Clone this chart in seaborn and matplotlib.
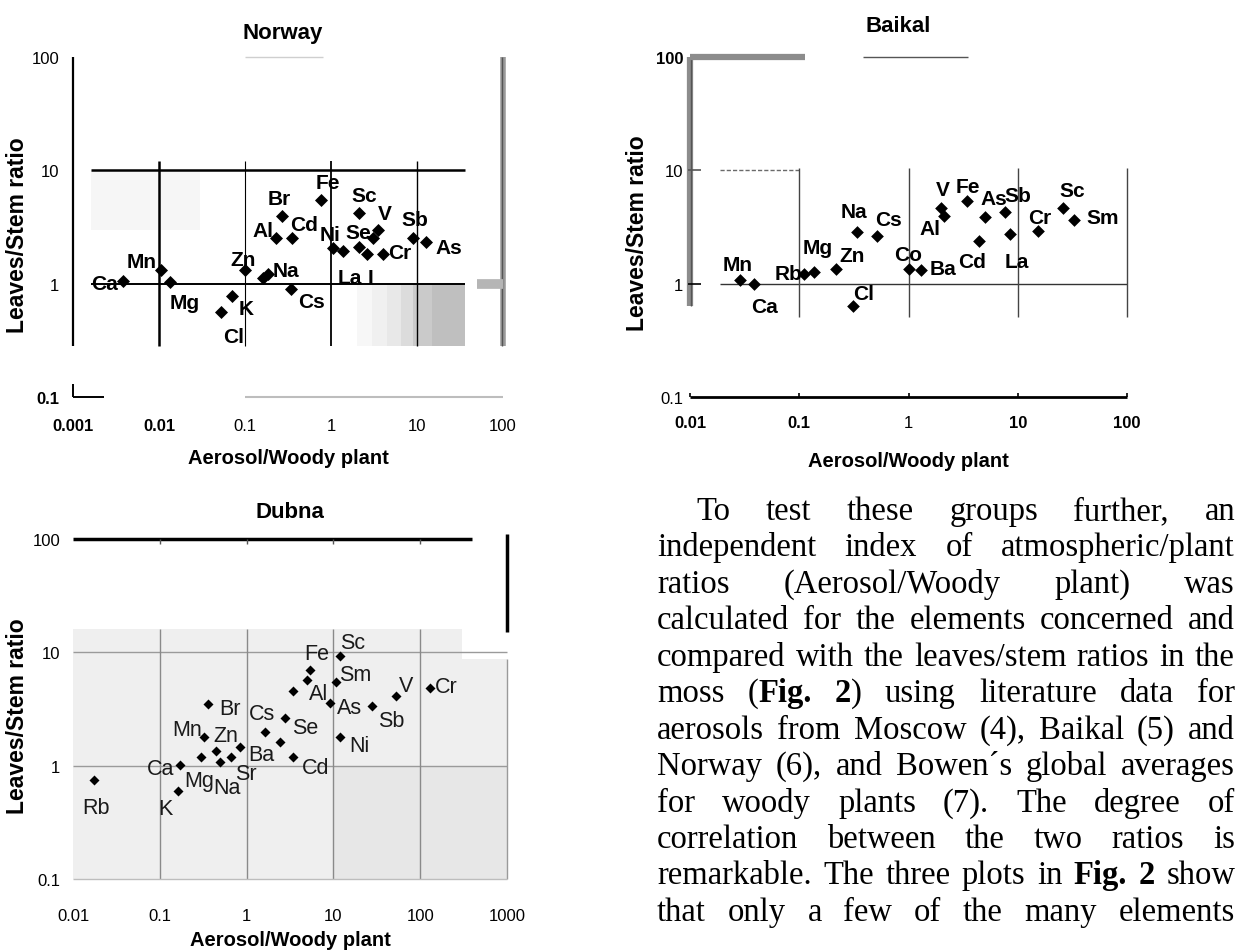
import matplotlib
matplotlib.use("Agg")
import matplotlib.pyplot as plt
import seaborn as sns
import pandas as pd
from matplotlib.ticker import NullLocator

sns.set_theme(style="white")
plt.rcParams["font.family"] = ["Liberation Sans", "DejaVu Sans"]

W_PX, H_PX, DPI = 1243, 953, 100

# ---------------------------------------------------------------- data
norway_elements = ["Ca", "Mn", "Mg", "Cl", "K", "Zn", "Na", "", "Br", "Al", "Cd", "Cs",
                   "Fe", "Ni", "La", "Sc", "Se", "I", "", "V", "Cr", "Sb", "As"]
norway_aerosol = [0.0038, 0.0105, 0.0133, 0.052, 0.070, 0.101, 0.186, 0.163, 0.266, 0.229,
                  0.355, 0.339, 0.76, 1.05, 1.37, 2.12, 2.12, 2.6, 3.06, 3.56, 4.0, 8.87, 12.7]
norway_leaves = [1.06, 1.31, 1.04, 0.56, 0.78, 1.31, 1.22, 1.13, 3.95, 2.55, 2.55, 0.89,
                 5.43, 2.08, 1.94, 4.23, 2.11, 1.84, 2.55, 2.98, 1.82, 2.51, 2.33]

baikal_elements = ["Mn", "Ca", "Rb", "Mg", "Zn", "Na", "Cl", "Cs", "Co", "Ba", "V", "Al",
                   "Fe", "Cd", "As", "Sb", "La", "Cr", "Sc", "Sm"]
baikal_aerosol = [0.0286, 0.0387, 0.111, 0.136, 0.216, 0.339, 0.312, 0.516, 1.01, 1.30, 2.0,
                  2.1, 3.44, 4.4, 5.06, 7.7, 8.45, 15.3, 26.0, 33.0]
baikal_leaves = [1.07, 1.0, 1.22, 1.27, 1.35, 2.83, 0.64, 2.61, 1.36, 1.33, 4.68, 3.98,
                 5.36, 2.39, 3.9, 4.26, 2.74, 2.93, 4.68, 3.65]

dubna_elements = ["Rb", "Ca", "K", "Br", "Mn", "Mg", "Zn", "Na", "Sr", "Ba", "Cs", "",
                  "Se", "Cd", "", "Al", "Fe", "As", "Sm", "Sc", "Ni", "Sb", "V", "Cr"]
dubna_aerosol = [0.0173, 0.169, 0.162, 0.359, 0.32, 0.30, 0.44, 0.49, 0.667, 0.85, 1.61, 2.45,
                 2.74, 3.43, 3.43, 4.97, 5.33, 9.06, 10.8, 12.0, 12.0, 28.1, 53.1, 128.5]
dubna_leaves = [0.75, 1.01, 0.594, 3.5, 1.78, 1.2, 1.34, 1.07, 1.2, 1.45, 2.0, 1.61,
                2.62, 1.2, 4.53, 5.74, 7.03, 3.55, 5.51, 9.22, 1.78, 3.38, 4.15, 4.84]

x_ticks_norway = [0.001, 0.01, 0.1, 1, 10, 100]
x_labels_norway = ["0.001", "0.01", "0.1", "1", "10", "100"]
x_ticks_baikal = [0.01, 0.1, 1, 10, 100]
x_labels_baikal = ["0.01", "0.1", "1", "10", "100"]
x_ticks_dubna = [0.01, 0.1, 1, 10, 100, 1000]
x_labels_dubna = ["0.01", "0.1", "1", "10", "100", "1000"]
y_ticks = [0.1, 1, 10, 100]
y_labels = ["0.1", "1", "10", "100"]

panel_titles = ["Norway", "Baikal", "Dubna"]
x_title = "Aerosol/Woody plant"
y_title = "Leaves/Stem ratio"

body_lines = [
    "To test these groups further, an",
    "independent index of atmospheric/plant",
    "ratios (Aerosol/Woody plant) was",
    "calculated for the elements concerned and",
    "compared with the leaves/stem ratios in the",
    "moss (**Fig.** **2**) using literature data for",
    "aerosols from Moscow (4), Baikal (5) and",
    "Norway (6), and Bowen\u00b4s global averages",
    "for woody plants (7). The degree of",
    "correlation between the two ratios is",
    "remarkable. The three plots in **Fig.** **2** show",
    "that only a few of the many elements",
]

# label placement (pixels from the marker centre)
norway_offsets = {
    "Ca": (-18, -3), "Mn": (-19, 9), "Mg": (15, -21), "Cl": (13, -24), "K": (14, -13),
    "Zn": (-2, 11), "Na": (18, 3), "Br": (-2, 18), "Al": (-13, 7), "Cd": (12, 13),
    "Cs": (21, -12), "Fe": (7, 18), "Ni": (-3, 13), "La": (7, -26), "Sc": (5, 17),
    "Se": (-1, 14), "I": (4, -24), "V": (6, 16), "Cr": (17, 2), "Sb": (2, 19), "As": (23, -5),
}
baikal_offsets = {
    "Mn": (-2, 16), "Ca": (10, -23), "Rb": (-16, 0), "Mg": (4, 24), "Zn": (16, 13),
    "Na": (-3, 21), "Cl": (10, 12), "Cs": (11, 17), "Co": (-1, 14), "Ba": (22, 1),
    "V": (1, 18), "Al": (-14, -13), "Fe": (1, 15), "Cd": (-7, -21), "As": (8, 18),
    "Sb": (13, 17), "La": (7, -27), "Cr": (2, 13), "Sc": (9, 17), "Sm": (28, 2),
}
dubna_offsets = {
    "Rb": (2, -28), "Ca": (-19, -3), "K": (-13, -17), "Mg": (-2, -24), "Na": (7, -25),
    "Sr": (15, -17), "Mn": (-17, 8), "Zn": (10, 16), "Br": (22, -4), "Cs": (-3, 18),
    "Ba": (21, -7), "Se": (21, -9), "Cd": (23, -11), "Fe": (7, 16), "Al": (12, -14),
    "Sc": (12, 14), "Sm": (19, 7), "As": (20, -4), "Ni": (19, -8), "Sb": (19, -15),
    "V": (10, 10), "Cr": (17, 2),
}

# ---------------------------------------------------------------- helpers
fig = plt.figure(figsize=(W_PX / DPI, H_PX / DPI), dpi=DPI)
fig.patch.set_facecolor("white")


def fx(px):
    return px / W_PX


def fy(py):
    return 1 - py / H_PX


def px_axes(left, top, right, bottom):
    return fig.add_axes([fx(left), fy(bottom), (right - left) / W_PX, (bottom - top) / H_PX])


def scatter_panel(ax, elements, aerosol, leaves, xlim, offsets, msize, label_kw):
    ax.set_xscale("log")
    ax.set_yscale("log")
    df = pd.DataFrame({"element": elements, "aerosol": aerosol, "leaves": leaves})
    sns.scatterplot(data=df, x="aerosol", y="leaves", marker="D", s=msize,
                    color="black", linewidth=0, ax=ax, zorder=6, legend=False)
    for name, x, y in zip(df["element"], df["aerosol"], df["leaves"]):
        if name:
            dx, dy = offsets[name]
            ax.annotate(name, (x, y), xytext=(dx, dy), textcoords="offset pixels",
                        ha="center", va="center", zorder=7, **label_kw)
    ax.set_xlim(*xlim)
    ax.set_ylim(0.1, 100)
    ax.set_xlabel("")
    ax.set_ylabel("")
    ax.grid(False)
    ax.set_facecolor("none")
    for sp in ax.spines.values():
        sp.set_visible(False)
    ax.xaxis.set_minor_locator(NullLocator())
    ax.yaxis.set_minor_locator(NullLocator())


def set_ticks(ax, xt, xl, xweights, yweights, xpad, ypad, size=12):
    ax.set_xticks(xt)
    ax.set_xticklabels(xl)
    ax.set_yticks(y_ticks)
    ax.set_yticklabels(y_labels)
    ax.tick_params(axis="both", length=0, labelsize=size, colors="black")
    ax.tick_params(axis="x", pad=xpad)
    ax.tick_params(axis="y", pad=ypad)
    for lab, w in zip(ax.get_xticklabels(), xweights):
        lab.set_fontweight(w)
    for lab, w in zip(ax.get_yticklabels(), yweights):
        lab.set_fontweight(w)


def line(ax, xs, ys, **kw):
    kw.setdefault("solid_capstyle", "butt")
    ax.plot(xs, ys, clip_on=False, **kw)


# ---------------------------------------------------------------- Norway
ax_n = px_axes(73, 58, 503, 398)
scatter_panel(ax_n, norway_elements, norway_aerosol, norway_leaves, (0.001, 100),
              norway_offsets, 44, dict(fontsize=15, fontweight="bold", color="black"))
set_ticks(ax_n, x_ticks_norway, x_labels_norway,
          ["bold", "bold", "normal", "normal", "normal", "normal"],
          ["bold", "normal", "normal", "normal"], xpad=15, ypad=10)
# print shading
shade_bands = [(2, 3, "#f7f7f7"), (3, 4.5, "#f0f0f0"), (4.5, 6.5, "#e8e8e8"),
               (6.5, 9, "#dcdcdc"), (9, 15, "#cacaca"), (15, 36, "#bfbfbf")]
for (x0, x1, c) in shade_bands:
    ax_n.fill_between([x0, x1], [0.28, 0.28], [0.97, 0.97], color=c, lw=0, zorder=0)
ax_n.fill_between([0.0016, 0.03], [3, 3], [10, 10], color="#f6f6f6", lw=0, zorder=0)
line(ax_n, [0.001, 0.001], [0.28, 100], color="black", lw=1.6)
line(ax_n, [0.001, 0.001], [0.1, 0.13], color="black", lw=1.4)
line(ax_n, [0.001, 0.0023], [0.1, 0.1], color="black", lw=1.4)
line(ax_n, [0.0016, 36], [10, 10], color="black", lw=1.8)
line(ax_n, [0.0016, 36], [1, 1], color="black", lw=1.4)
for xv, lw in [(0.01, 1.8), (0.1, 0.8), (1, 1.3), (10, 1.0)]:
    line(ax_n, [xv, xv], [0.28, 12.2], color="black", lw=lw)
line(ax_n, [100, 100], [0.28, 100], color="#9a9a9a", lw=4)
line(ax_n, [98, 98], [0.28, 100], color="#555555", lw=1)
line(ax_n, [50, 100], [1, 1], color="#b5b5b5", lw=7)
line(ax_n, [0.1, 100], [0.1, 0.1], color="#bdbdbd", lw=1.5)
line(ax_n, [0.1, 0.8], [100, 100], color="#cfcfcf", lw=1)

# ---------------------------------------------------------------- Baikal
ax_b = px_axes(690, 58, 1127, 398)
scatter_panel(ax_b, baikal_elements, baikal_aerosol, baikal_leaves, (0.01, 100),
              baikal_offsets, 42, dict(fontsize=15, fontweight="bold", color="black"))
set_ticks(ax_b, x_ticks_baikal, x_labels_baikal,
          ["bold", "bold", "normal", "bold", "bold"],
          ["normal", "normal", "normal", "bold"], xpad=13, ypad=5)
line(ax_b, [0.01, 0.01], [0.64, 100], color="#8c8c8c", lw=4.5)
line(ax_b, [0.0102, 0.0102], [0.64, 100], color="#555555", lw=1)
line(ax_b, [0.01, 0.114], [100, 100], color="#8c8c8c", lw=4.5)
line(ax_b, [0.38, 3.5], [100, 100], color="#555555", lw=1)
line(ax_b, [0.0095, 0.0125], [1, 1], color="black", lw=1.2)
line(ax_b, [0.0095, 0.0125], [10, 10], color="#555555", lw=1.2)
line(ax_b, [0.019, 0.1], [10, 10], color="#6a6a6a", lw=1, dashes=(3, 1.5))
line(ax_b, [0.019, 100], [1, 1], color="#333333", lw=1)
for xv in [0.1, 1, 10, 100]:
    line(ax_b, [xv, xv], [0.51, 10.5], color="#444444", lw=1)
line(ax_b, [0.01, 100], [0.1, 0.1], color="black", lw=2)
for xv in x_ticks_baikal:
    line(ax_b, [xv, xv], [0.1, 0.108], color="black", lw=1.2)

# ---------------------------------------------------------------- Dubna
ax_d = px_axes(73, 540, 507, 880)
scatter_panel(ax_d, dubna_elements, dubna_aerosol, dubna_leaves, (0.01, 1000),
              dubna_offsets, 26, dict(fontsize=15.5, fontweight="normal", color="#1a1a1a"))
set_ticks(ax_d, x_ticks_dubna, x_labels_dubna,
          ["normal"] * 6, ["normal"] * 4, xpad=21, ypad=9)
ax_d.fill_between([0.01, 300], [0.1, 0.1], [16, 16], color="#efefef", lw=0, zorder=0)
ax_d.fill_between([300, 1000], [0.1, 0.1], [8.7, 8.7], color="#efefef", lw=0, zorder=0)
ax_d.fill_between([10, 1000], [0.1, 0.1], [1, 1], color="#e7e7e7", lw=0, zorder=0)
for yv in [10, 1]:
    line(ax_d, [0.01, 1000], [yv, yv], color="#9a9a9a", lw=1)
for xv in [0.1, 1, 10, 100]:
    line(ax_d, [xv, xv], [0.1, 16], color="#8a8a8a", lw=1)
line(ax_d, [1000, 1000], [0.1, 8.7], color="#9a9a9a", lw=1)
line(ax_d, [0.01, 1000], [0.1, 0.1], color="#bdbdbd", lw=1)
line(ax_d, [0.01, 390], [100, 100], color="black", lw=2.5)
for xv in [0.1, 1, 10, 100]:
    line(ax_d, [xv, xv], [90, 100], color="#555555", lw=1)
line(ax_d, [1000, 1000], [15, 110], color="black", lw=2.5)

# ---------------------------------------------------------------- titles and axis names
title_kw = dict(fontsize=16, fontweight="bold", ha="center", va="center", color="black")
fig.text(fx(283), fy(33), panel_titles[0], **title_kw)
fig.text(fx(898), fy(27), panel_titles[1], **title_kw)
fig.text(fx(290), fy(513), panel_titles[2], **title_kw)

xl_kw = dict(fontsize=14.5, fontweight="bold", ha="center", va="center", color="black")
fig.text(fx(288), fy(458), x_title, **xl_kw)
fig.text(fx(908), fy(462), x_title, **xl_kw)
fig.text(fx(290), fy(941), x_title, **xl_kw)

yl_kw = dict(fontsize=16.5, fontweight="bold", ha="center", va="center", rotation=90, color="black")
fig.text(fx(18), fy(235), y_title, **yl_kw)
fig.text(fx(637), fy(233), y_title, **yl_kw)
fig.text(fx(18), fy(716), y_title, **yl_kw)

# ---------------------------------------------------------------- justified body text
BODY_SIZE = 23.5
BODY_FAMILY = ["Liberation Serif", "DejaVu Serif"]
renderer = fig.canvas.get_renderer()


def runs_of(word):
    parts = word.split("**")
    return [(p, i % 2 == 1) for i, p in enumerate(parts) if p]


def run_width(text, bold):
    t = fig.text(0, 0, text, fontsize=BODY_SIZE, family=BODY_FAMILY,
                 fontweight="bold" if bold else "normal")
    w = t.get_window_extent(renderer).width
    t.remove()
    return w


left_px, right_px, indent_px = 657, 1235, 696
base0, step = 520, 36.45
for i, text_line in enumerate(body_lines):
    words = [runs_of(w) for w in text_line.split()]
    widths = [[run_width(t, b) for t, b in runs] for runs in words]
    total = sum(sum(ws) for ws in widths)
    start = indent_px if i == 0 else left_px
    gap = max((right_px - start - total) / max(len(words) - 1, 1), 4)
    x = start
    y = base0 + i * step
    for runs, ws in zip(words, widths):
        for (t, b), w in zip(runs, ws):
            fig.text(fx(x), fy(y), t, fontsize=BODY_SIZE, family=BODY_FAMILY,
                     fontweight="bold" if b else "normal", va="baseline", ha="left",
                     color="black")
            x += w
        x += gap

fig.savefig("out.png", dpi=DPI, facecolor="white")
